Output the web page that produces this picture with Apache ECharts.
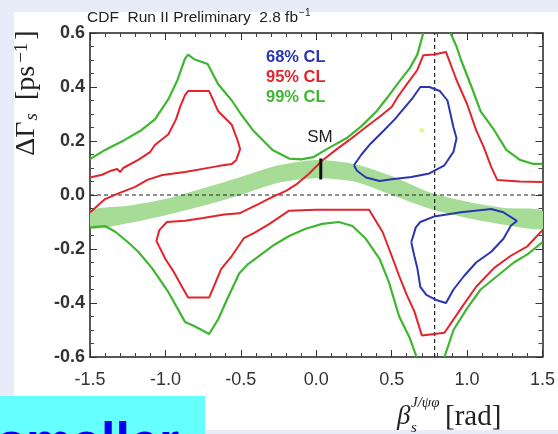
<!DOCTYPE html>
<html><head><meta charset="utf-8">
<script src="https://cdn.jsdelivr.net/npm/echarts@6/dist/echarts.min.js"></script>
<style>html,body{margin:0;padding:0;background:#e8ecf8;}#c{width:558px;height:434px;}</style>
</head><body><div id="c"></div>
<script>
// ---- data ----
const xRange = [-1.5, 1.5];
const yRange = [-0.6, 0.6];
const xInterval = 0.5;
const yInterval = 0.2;

// shaded SM band (upper/lower edges)
const bandX     = [-1.5, -1.25, -1.0, -0.75, -0.5, -0.25, 0.0, 0.25, 0.5, 0.75, 1.0, 1.25, 1.5];
const bandUpper = [-0.058, -0.04, -0.015, 0.025, 0.067, 0.11, 0.13, 0.115, 0.07, 0.01, -0.025, -0.048, -0.058];
const bandLower = [-0.123, -0.105, -0.075, -0.04, 0.0, 0.045, 0.062, 0.05, 0.0, -0.05, -0.085, -0.11, -0.125];

// 99% CL contours (green)
const cl99a = [[-1.5,0.133],[-1.4,0.167],[-1.27,0.204],[-1.16,0.24],[-1.07,0.28],[-0.98,0.355],[-0.92,0.426],[-0.87,0.505],[-0.85,0.52],[-0.81,0.503],[-0.72,0.485],[-0.65,0.41],[-0.56,0.35],[-0.5,0.30],[-0.42,0.24],[-0.29,0.167],[-0.18,0.135],[-0.1,0.132],[-0.02,0.14],[0.07,0.17],[0.2,0.21],[0.3,0.255],[0.4,0.31],[0.47,0.36],[0.55,0.42],[0.62,0.47],[0.67,0.52],[0.71,0.6]];
const cl99b = [[0.89,0.6],[0.93,0.55],[0.96,0.5],[1.03,0.40],[1.09,0.31],[1.18,0.24],[1.26,0.167],[1.35,0.13],[1.44,0.115],[1.5,0.115]];
const cl99c = [[-1.5,-0.12],[-1.4,-0.115],[-1.33,-0.137],[-1.25,-0.174],[-1.18,-0.21],[-1.09,-0.27],[-0.98,-0.36],[-0.87,-0.47],[-0.81,-0.485],[-0.71,-0.515],[-0.65,-0.46],[-0.59,-0.385],[-0.51,-0.29],[-0.45,-0.255],[-0.38,-0.226],[-0.28,-0.185],[-0.18,-0.152],[-0.07,-0.125],[0.04,-0.107],[0.15,-0.1],[0.24,-0.115],[0.33,-0.163],[0.42,-0.237],[0.48,-0.32],[0.55,-0.45],[0.62,-0.53],[0.665,-0.6]];
const cl99d = [[0.85,-0.6],[0.88,-0.55],[0.91,-0.5],[1.0,-0.42],[1.09,-0.35],[1.2,-0.3],[1.31,-0.25],[1.4,-0.22],[1.5,-0.175]];

// 95% CL contours (red)
const cl95a = [[-1.5,0.065],[-1.42,0.075],[-1.36,0.09],[-1.32,0.096],[-1.3,0.085],[-1.28,0.1],[-1.18,0.13],[-1.1,0.16],[-1.07,0.185],[-0.98,0.225],[-0.93,0.28],[-0.9,0.33],[-0.87,0.37],[-0.85,0.385],[-0.71,0.385],[-0.65,0.31],[-0.56,0.26],[-0.52,0.20],[-0.505,0.17],[-0.53,0.13],[-0.56,0.115],[-0.65,0.107],[-0.87,0.085],[-1.02,0.074],[-1.12,0.056],[-1.2,0.03],[-1.32,0.004],[-1.4,-0.015],[-1.5,-0.065]];
const cl95b = [[1.5,0.048],[1.35,0.05],[1.2,0.056],[1.16,0.104],[1.11,0.178],[1.06,0.24],[1.0,0.337],[0.93,0.426],[0.86,0.53],[0.78,0.52],[0.71,0.518],[0.67,0.463],[0.6,0.41],[0.54,0.363],[0.5,0.326],[0.42,0.29],[0.33,0.252],[0.22,0.204],[0.13,0.167],[0.04,0.128],[-0.05,0.078],[-0.13,0.04],[-0.2,0.015],[-0.3,-0.01],[-0.38,-0.033],[-0.51,-0.068],[-0.61,-0.072],[-0.75,-0.085],[-0.87,-0.095],[-0.99,-0.1],[-1.04,-0.13],[-1.06,-0.17],[-1.0,-0.237],[-0.95,-0.28],[-0.89,-0.34],[-0.85,-0.38],[-0.71,-0.38],[-0.63,-0.274],[-0.56,-0.226],[-0.48,-0.16],[-0.41,-0.14],[-0.31,-0.107],[-0.18,-0.058],[0.0,-0.055],[0.35,-0.055],[0.44,-0.137],[0.5,-0.225],[0.55,-0.30],[0.6,-0.37],[0.65,-0.43],[0.70,-0.52],[0.85,-0.51],[0.96,-0.42],[1.06,-0.34],[1.18,-0.27],[1.29,-0.225],[1.4,-0.19],[1.5,-0.13]];

// 68% CL contours (blue)
const cl68a = [[0.25,0.11],[0.30,0.15],[0.36,0.19],[0.45,0.24],[0.52,0.28],[0.58,0.32],[0.64,0.36],[0.69,0.40],[0.75,0.40],[0.82,0.385],[0.87,0.35],[0.89,0.3],[0.91,0.25],[0.93,0.21],[0.91,0.16],[0.85,0.11],[0.75,0.08],[0.63,0.067],[0.5,0.058],[0.42,0.052],[0.33,0.065],[0.27,0.09],[0.25,0.11]];
const cl68b = [[0.63,-0.175],[0.66,-0.12],[0.69,-0.1],[0.78,-0.08],[0.96,-0.064],[1.16,-0.052],[1.24,-0.064],[1.33,-0.096],[1.29,-0.114],[1.24,-0.163],[1.16,-0.21],[1.06,-0.25],[0.98,-0.3],[0.91,-0.35],[0.86,-0.40],[0.8,-0.39],[0.73,-0.37],[0.69,-0.34],[0.67,-0.27],[0.65,-0.225],[0.63,-0.175]];

// reference lines, SM point, best fit
const zeroLine = [[-1.5,0],[1.5,0]];
const piQuarterLine = [[0.785,-0.6],[0.785,0.6]];
const smBar = [[0.03,0.057],[0.03,0.135]];
const bestFit = [[0.70,0.24]];

const legendLabels = ['68% CL','95% CL','99% CL'];
const titleText = 'CDF  Run II Preliminary  2.8 fb';

// ---- chart ----
const C_GREEN = '#3fb631', C_RED = '#e2242c', C_BLUE = '#2b35b0';
const chart = echarts.init(document.getElementById('c'));
const fmt = v => (Math.abs(v) < 1e-9 ? '0.0' : v.toFixed(1));
const axisCommon = {
  type: 'value',
  axisLine: { show: true, onZero: false, lineStyle: { color: '#222', width: 1.5 } },
  axisTick: { show: true, inside: true, length: 7, lineStyle: { color: '#333', width: 1 } },
  minorTick: { show: true, length: 4, lineStyle: { color: '#444', width: 1 } },
  splitLine: { show: false },
  minorSplitLine: { show: false }
};
function lineS(data, color, width, extra) {
  return Object.assign({ type: 'line', data: data, showSymbol: false, symbol: 'none', silent: true,
    lineStyle: { color: color, width: width }, clip: true, animation: false }, extra || {});
}
const ink = '#222';
chart.setOption({
  backgroundColor: '#e8ecf8',
  animation: false,
  grid: { left: 90, right: 14, top: 33, bottom: 77 },
  xAxis: [
    Object.assign({}, axisCommon, { position: 'bottom', min: xRange[0], max: xRange[1], interval: xInterval,
      minorTick: Object.assign({}, axisCommon.minorTick, { splitNumber: 5 }),
      axisLabel: { margin: 14, formatter: fmt, color: '#333', fontFamily: 'Liberation Sans', fontSize: 18 } }),
    Object.assign({}, axisCommon, { position: 'top', min: xRange[0], max: xRange[1], interval: xInterval,
      minorTick: Object.assign({}, axisCommon.minorTick, { splitNumber: 5 }),
      axisLabel: { show: false } })
  ],
  yAxis: [
    Object.assign({}, axisCommon, { position: 'left', min: yRange[0], max: yRange[1], interval: yInterval,
      minorTick: Object.assign({}, axisCommon.minorTick, { splitNumber: 4 }),
      axisLabel: { margin: 5, formatter: fmt, color: '#333', fontFamily: 'Liberation Sans', fontSize: 18, fontWeight: 'bold' } }),
    Object.assign({}, axisCommon, { position: 'right', min: yRange[0], max: yRange[1], interval: yInterval,
      minorTick: Object.assign({}, axisCommon.minorTick, { splitNumber: 4 }),
      axisLabel: { show: false } })
  ],
  series: [
    {
      type: 'custom', silent: true, clip: true, z: 1, data: [[0, 0]],
      renderItem: function (params, api) {
        const pts = [];
        for (let i = 0; i < bandX.length; i++) pts.push(api.coord([bandX[i], bandUpper[i]]));
        for (let i = bandX.length - 1; i >= 0; i--) pts.push(api.coord([bandX[i], bandLower[i]]));
        return { type: 'polygon', shape: { points: pts, smooth: 0.25 }, style: { fill: '#a6dc96' } };
      }
    },
    lineS(zeroLine, ink, 1.2, { lineStyle: { color: ink, width: 1.2, type: [4, 3] }, z: 3 }),
    lineS(piQuarterLine, ink, 1.2, { lineStyle: { color: ink, width: 1.2, type: [4, 3] }, z: 3 }),
    lineS(cl99a, C_GREEN, 2.2, { z: 4 }),
    lineS(cl99b, C_GREEN, 2.2, { z: 4 }),
    lineS(cl99c, C_GREEN, 2.2, { z: 4 }),
    lineS(cl99d, C_GREEN, 2.2, { z: 4 }),
    lineS(cl95a, C_RED, 2, { z: 5 }),
    lineS(cl95b, C_RED, 2, { z: 5 }),
    lineS(cl68a, C_BLUE, 2, { z: 6 }),
    lineS(cl68b, C_BLUE, 2, { z: 6 }),
    lineS(smBar, '#111', 3, { z: 7 }),
    { type: 'scatter', data: bestFit, symbolSize: 5, itemStyle: { color: '#e4ef7c' }, silent: true, z: 7 }
  ],
  graphic: [
    { type: 'rect', z: -10, shape: { x: 14, y: 12, width: 544, height: 418 }, style: { fill: '#ffffff' } },
    { type: 'rect', z: -9, shape: { x: 0, y: 396, width: 205, height: 38 }, style: { fill: '#66ffff' } },
    { type: 'text', z: -8, x: -3, y: 445, style: { text: 'smaller', fill: '#0000f0', fontFamily: 'Liberation Sans', fontSize: 52, fontWeight: 'bold', align: 'left', verticalAlign: 'middle' } },
    { type: 'text', x: 87, y: 18, style: { text: '{t|' + titleText + '}{s|−1}', align: 'left', verticalAlign: 'middle',
        rich: { t: { fontFamily: 'Liberation Sans', fontSize: 15.5, fill: ink, color: ink },
                s: { fontFamily: 'Liberation Sans', fontSize: 10, fill: ink, color: ink, verticalAlign: 'top', padding: [0,0,9,1] } } } },
    { type: 'text', x: 266, y: 57, style: { text: legendLabels[0], fill: C_BLUE, fontFamily: 'Liberation Sans', fontSize: 16.5, fontWeight: 'bold', align: 'left', verticalAlign: 'middle' } },
    { type: 'text', x: 266, y: 77, style: { text: legendLabels[1], fill: C_RED, fontFamily: 'Liberation Sans', fontSize: 16.5, fontWeight: 'bold', align: 'left', verticalAlign: 'middle' } },
    { type: 'text', x: 266, y: 97, style: { text: legendLabels[2], fill: C_GREEN, fontFamily: 'Liberation Sans', fontSize: 16.5, fontWeight: 'bold', align: 'left', verticalAlign: 'middle' } },
    { type: 'text', x: 320, y: 137, style: { text: 'SM', fill: ink, fontFamily: 'Liberation Sans', fontSize: 17, align: 'center', verticalAlign: 'middle' } },
    { type: 'text', x: 27, y: 93, rotation: Math.PI / 2, style: { text: '{d|ΔΓ}{sub|s}{gap| }{d|[ps}{sup|−1}{d|]}', align: 'center', verticalAlign: 'middle',
        rich: { d: { fontFamily: 'Liberation Serif', fontSize: 28, fill: ink, color: ink },
                gap: { fontFamily: 'Liberation Serif', fontSize: 28, fill: ink, color: ink, padding: [0, 4, 0, 0] },
                sub: { fontFamily: 'Liberation Serif', fontStyle: 'italic', fontSize: 19, fill: ink, color: ink, verticalAlign: 'bottom', padding: [0, 2, 0, 1] },
                sup: { fontFamily: 'Liberation Serif', fontSize: 19, fill: ink, color: ink, verticalAlign: 'top', padding: [0, 3, 0, 3] } } } },
    { type: 'text', x: 397, y: 417, style: { text: 'β', fill: ink, fontFamily: 'Liberation Serif', fontStyle: 'italic', fontSize: 27, align: 'left', verticalAlign: 'middle' } },
    { type: 'text', x: 411, y: 428, style: { text: 's', fill: ink, fontFamily: 'Liberation Serif', fontStyle: 'italic', fontSize: 15, align: 'left', verticalAlign: 'middle' } },
    { type: 'text', x: 411, y: 403, style: { text: 'J/ψφ', fill: ink, fontFamily: 'Liberation Serif', fontStyle: 'italic', fontSize: 15, align: 'left', verticalAlign: 'middle' } },
    { type: 'text', x: 445, y: 417, style: { text: '[rad]', fill: ink, fontFamily: 'Liberation Serif', fontSize: 29, align: 'left', verticalAlign: 'middle' } }
  ]
});
</script></body></html>
